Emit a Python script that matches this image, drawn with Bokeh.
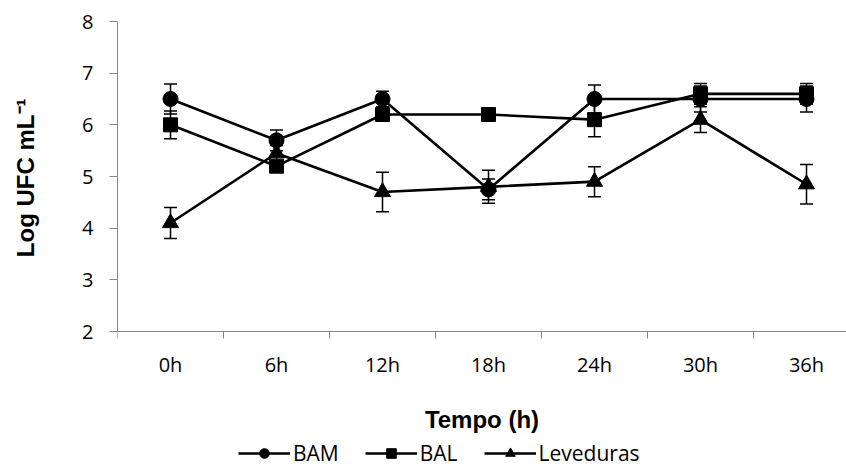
from bokeh.plotting import figure
from bokeh.models import (ColumnDataSource, FixedTicker, Whisker, TeeHead, Legend, LegendItem,
                          Range1d, LinearAxis)
from bokeh.embed import file_html
from bokeh.resources import INLINE

categories = ["0h", "6h", "12h", "18h", "24h", "30h", "36h"]
bam = [6.5, 5.7, 6.5, 4.75, 6.5, 6.5, 6.5]
bam_err = [0.29, 0.2, 0.15, 0.2, 0.27, 0.25, 0.25]
bal = [6.0, 5.2, 6.2, 6.2, 6.1, 6.6, 6.6]
bal_err = [0.27, 0.1, 0.1, 0.05, 0.33, 0.2, 0.2]
lev = [4.1, 5.45, 4.7, 4.8, 4.9, 6.1, 4.85]
lev_err = [0.3, 0.15, 0.38, 0.32, 0.29, 0.25, 0.38]
y_ticks = [2, 3, 4, 5, 6, 7, 8]

xs = list(range(len(categories)))

FONT = "Open Sans"
BOLD = "Liberation Sans"
GRAY = "#868686"

Y_MIN, Y_MAX = 2, 8
px_per_unit = 310 / (Y_MAX - Y_MIN)

p = figure(frame_width=729, frame_height=446, output_backend="svg", toolbar_location=None,
           x_axis_location=None,
           x_range=Range1d(-0.5, -0.5 + 729 / 106),
           y_range=Range1d(Y_MIN - 136 / px_per_unit, Y_MAX),
           min_border_left=117, min_border_right=0, min_border_top=21, min_border_bottom=0)
p.outline_line_color = None
p.grid.visible = False

# y axis
p.yaxis.bounds = (Y_MIN, Y_MAX)
p.yaxis.ticker = FixedTicker(ticks=y_ticks)
p.yaxis.axis_line_color = GRAY
p.yaxis.major_tick_line_color = GRAY
p.yaxis.major_tick_out = 8
p.yaxis.major_tick_in = 0
p.yaxis.minor_tick_line_color = None
p.yaxis.major_label_text_font = FONT
p.yaxis.major_label_text_font_size = "20px"
p.yaxis.major_label_text_color = "black"
p.yaxis.major_label_standoff = 16
# leading no-break spaces shift the rotated title up so it centres on the 2-8 axis
p.yaxis.axis_label = "\u00a0" * 20 + "Log UFC mL\u207b\u00b9"
p.yaxis.axis_label_text_font = BOLD
p.yaxis.axis_label_text_font_style = "bold"
p.yaxis.axis_label_text_font_size = "24px"
p.yaxis.axis_label_text_color = "black"
p.yaxis.axis_label_standoff = 40

# x axis, fixed at y = 2
xaxis = LinearAxis(fixed_location=Y_MIN)
xaxis.ticker = FixedTicker(ticks=xs, minor_ticks=[i - 0.5 for i in range(len(categories) + 1)])
xaxis.major_label_overrides = {i: c for i, c in enumerate(categories)}
xaxis.axis_line_color = GRAY
xaxis.major_tick_line_color = None
xaxis.minor_tick_line_color = GRAY
xaxis.minor_tick_out = 7
xaxis.minor_tick_in = 0
xaxis.major_label_text_font = FONT
xaxis.major_label_text_font_size = "20px"
xaxis.major_label_text_color = "black"
xaxis.major_label_standoff = 12
xaxis.axis_label = "Tempo (h)"
xaxis.axis_label_text_font = BOLD
xaxis.axis_label_text_font_style = "bold"
xaxis.axis_label_text_font_size = "24px"
xaxis.axis_label_text_color = "black"
xaxis.axis_label_standoff = 25
p.add_layout(xaxis, "below")

items = []
series = [("BAM", bam, bam_err, "circle", 15), ("BAL", bal, bal_err, "square", 14),
          ("Leveduras", lev, lev_err, "triangle", 16)]
for name, vals, err, marker, size in series:
    src = ColumnDataSource(dict(x=xs, y=vals,
                                lo=[v - e for v, e in zip(vals, err)],
                                hi=[v + e for v, e in zip(vals, err)]))
    w = Whisker(source=src, base="x", upper="hi", lower="lo", line_color="black", line_width=1.5,
                upper_head=TeeHead(size=13, line_color="black", line_width=1.5),
                lower_head=TeeHead(size=13, line_color="black", line_width=1.5))
    p.add_layout(w)
    l = p.line("x", "y", source=src, line_color="black", line_width=2.6)
    m = p.scatter("x", "y", source=src, marker=marker, size=size, fill_color="black", line_color="black")
    items.append(LegendItem(label=name, renderers=[l, m]))

legend = Legend(items=items, orientation="horizontal", location=(121, 0),
                glyph_width=52, glyph_height=24, label_standoff=3, spacing=26,
                label_text_font=FONT, label_text_font_size="21px", label_text_color="black",
                background_fill_alpha=0, border_line_color=None, padding=0, margin=0)
p.add_layout(legend, "center")

open("out.html", "w").write(file_html(p, INLINE))
